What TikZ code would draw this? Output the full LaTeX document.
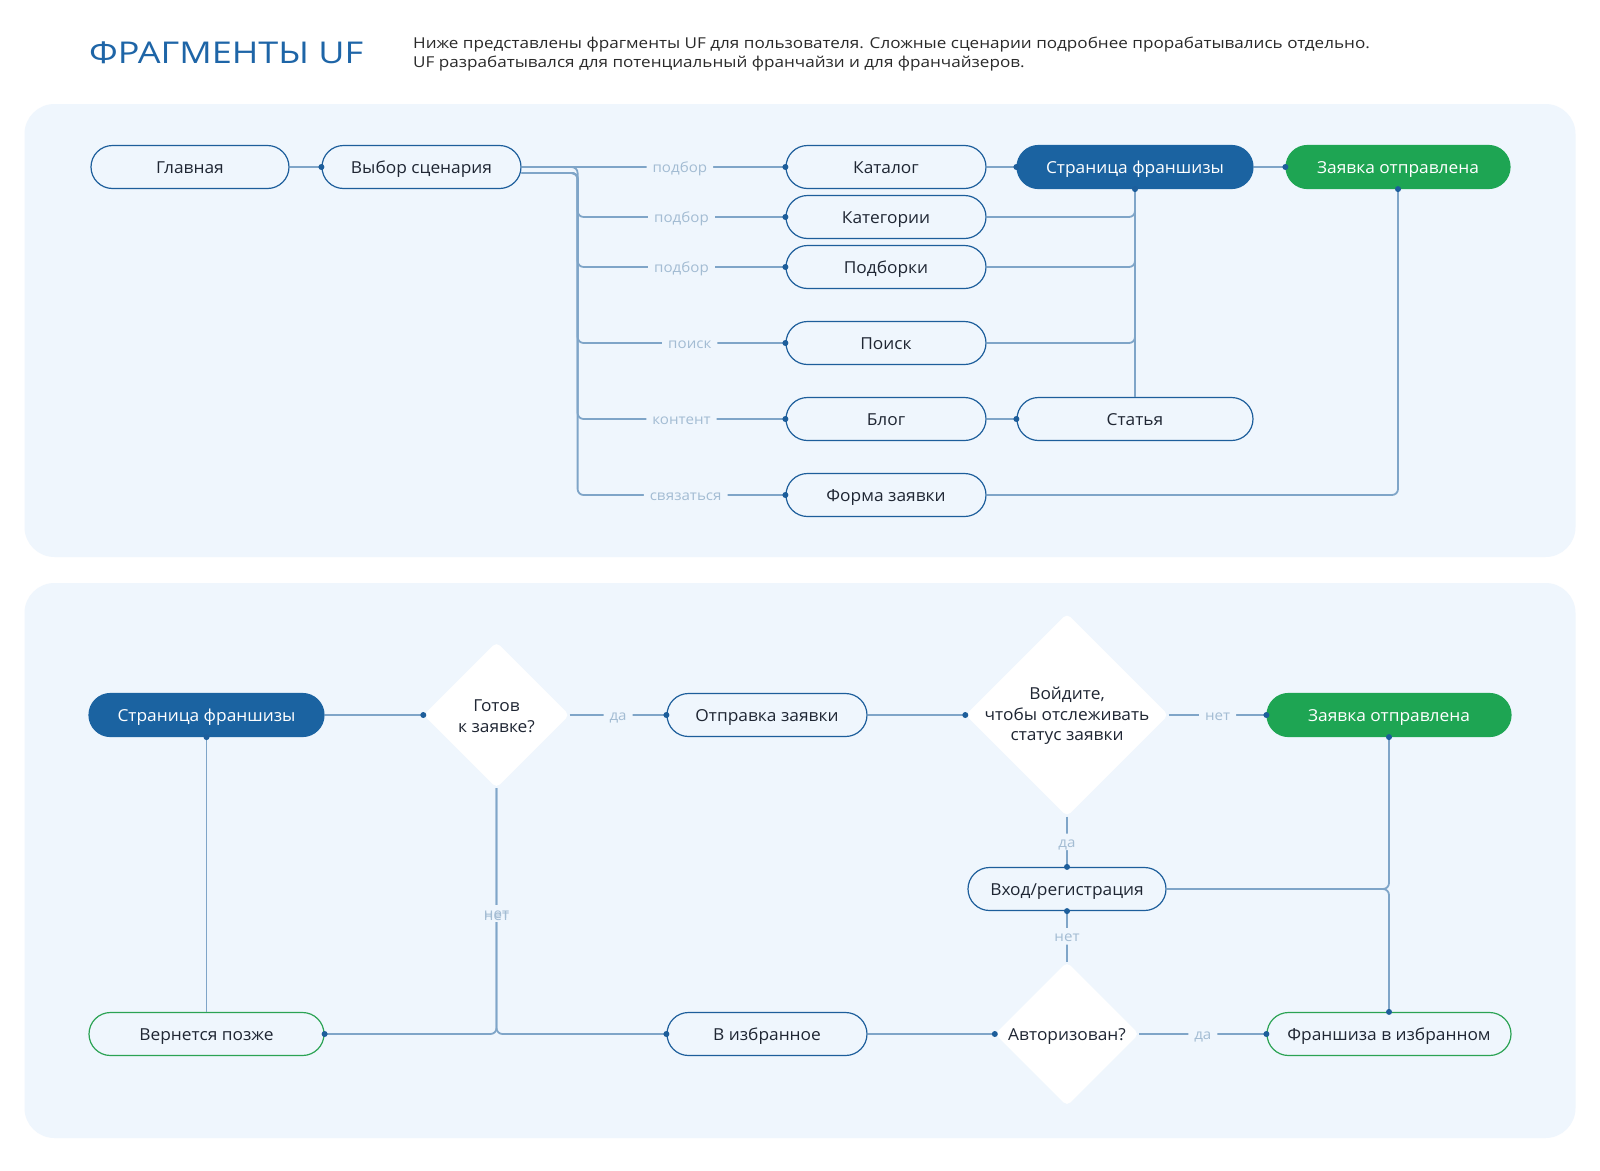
\documentclass[tikz,border=0pt]{standalone}
\usepackage{fontspec}
\setmainfont{Open Sans}
\newfontfamily\titlefam[FakeStretch=1.2]{Open Sans}
\newfontfamily\descfam[FakeStretch=1.14]{Open Sans}
\newfontfamily\nodefam[FakeStretch=1.05]{Open Sans}
\newfontfamily\lblfam[FakeStretch=1.08]{Open Sans}
\usetikzlibrary{shapes.geometric}
\definecolor{panelbg}{HTML}{EFF6FD}
\definecolor{nodeborder}{HTML}{1D5E9B}
\definecolor{linecol}{HTML}{7FA5C8}
\definecolor{dotcol}{HTML}{1D5E9B}
\definecolor{bluefill}{HTML}{1B63A1}
\definecolor{greenfill}{HTML}{1EA553}
\definecolor{greenborder}{HTML}{2BA354}
\definecolor{labelcol}{HTML}{A3BCD3}
\definecolor{textcol}{HTML}{1F2633}
\definecolor{titlecol}{HTML}{1E65A7}
\definecolor{desccol}{HTML}{2A2A2A}
\newcommand\ndfont{\nodefam\fontsize{16.5}{20.5}\selectfont}
\newcommand\lbfont{\lblfam\fontsize{14}{16}\selectfont}
\tikzset{
 pill/.style={draw=nodeborder, line width=1.2pt, fill=panelbg, rounded corners=21.5pt, minimum height=43pt, inner sep=0pt, text height=12pt, text depth=0pt, text=textcol, font=\ndfont},
 pillblue/.style={pill, fill=bluefill, draw=bluefill, text=white},
 pillgreen/.style={pill, fill=greenfill, draw=greenfill, text=white},
 pillgo/.style={pill, draw=greenborder},
 conn/.style={draw=linecol, line width=1.8pt, rounded corners=6pt},
 lbl/.style={fill=panelbg, text=labelcol, font=\lbfont, inner xsep=6pt, inner ysep=1.5pt, text height=12pt, text depth=1.5pt},
 jdot/.style={circle, fill=dotcol, inner sep=0pt, minimum size=6pt},
 dia/.style={diamond, fill=white, rounded corners=5pt, inner sep=0pt},
 dtext/.style={align=center, text=textcol, font=\ndfont, inner sep=0pt},
}
\begin{document}
\begin{tikzpicture}[x=1pt,y=-1pt]
\useasboundingbox (0,0) rectangle (1600,1170);
\fill[white] (0,0) rectangle (1600,1170);
\fill[panelbg, rounded corners=30pt] (24.5,104) rectangle (1575.5,557);
\fill[panelbg, rounded corners=30pt] (24.5,583) rectangle (1575.5,1138);

% header
\node[anchor=base west, inner sep=0pt, text=titlecol, font=\titlefam\fontsize{30}{36}\selectfont] (title) at (89,63) {ФРАГМЕНТЫ UF};
\node[anchor=base west, inner sep=0pt, text=desccol, font=\descfam\fontsize{15}{18}\selectfont] (desc1) at (413,48) {Ниже представлены фрагменты UF для пользователя. Сложные сценарии подробнее прорабатывались отдельно.};
\node[anchor=base west, inner sep=0pt, text=desccol, font=\descfam\fontsize{15}{18}\selectfont] (desc2) at (413,67) {UF разрабатывался для потенциальный франчайзи и для франчайзеров.};

% ---------- top section nodes
\node[pill, minimum width=198pt] (glav) at (190,167) {Главная};
\node[pill, minimum width=199pt] (vyb) at (421.5,167) {Выбор сценария};
\node[pill, minimum width=200pt] (kat) at (886,167) {Каталог};
\node[pill, minimum width=200pt] (kateg) at (886,217) {Категории};
\node[pill, minimum width=200pt] (podb) at (886,267) {Подборки};
\node[pill, minimum width=200pt] (poisk) at (886,343) {Поиск};
\node[pill, minimum width=200pt] (blog) at (886,419) {Блог};
\node[pill, minimum width=200pt] (forma) at (886,495) {Форма заявки};
\node[pillblue, minimum width=236pt] (str) at (1135,167) {Страница франшизы};
\node[pillgreen, minimum width=224pt] (zay) at (1398,167) {Заявка отправлена};
\node[pill, minimum width=236pt] (stat) at (1135,419) {Статья};

% top connectors
\draw[conn] (glav.east) -- (vyb.west);
\draw[conn] (vyb.east) -- node[lbl, pos=0.6] {подбор} (kat.west);
\draw[conn] (vyb.east) -- ++(56,0) |- node[lbl, pos=0.75] {подбор} (kateg.west);
\draw[conn] ([yshift=-6pt]vyb.east) -- ++(56,0) |- node[lbl, pos=0.75] {подбор} (podb.west);
\draw[conn] ([yshift=-6pt]vyb.east) -- ++(56,0) |- node[lbl, pos=0.77] {поиск} (poisk.west);
\draw[conn] ([yshift=-6pt]vyb.east) -- ++(56,0) |- node[lbl, pos=0.75] {контент} (blog.west);
\draw[conn] ([yshift=-6pt]vyb.east) -- ++(56,0) |- node[lbl, pos=0.76] {связаться} (forma.west);
\draw[conn] (kat.east) -- (str.west);
\draw[conn] (str.east) -- (zay.west);
\draw[conn] (str.south) -- (stat.north);
\draw[conn] (kateg.east) -| (str.south);
\draw[conn] (podb.east) -| (str.south);
\draw[conn] (poisk.east) -| (str.south);
\draw[conn] (blog.east) -- (stat.west);
\draw[conn] (forma.east) -| (zay.south);

\foreach \n in {vyb.west, kat.west, kateg.west, podb.west, poisk.west, blog.west, forma.west, str.west, str.south, zay.west, zay.south, stat.west}
  \node[jdot] at (\n) {};

% ---------- bottom section nodes
\node[pillblue, minimum width=235pt] (str2) at (206.5,715) {Страница франшизы};
\node[dia, minimum width=146pt, minimum height=146pt] (got) at (496.5,715) {};
\node[dtext] (gott) at (496.5,716) {Готов\\к заявке?};
\node[pill, minimum width=200pt] (otp) at (767,715) {Отправка заявки};
\node[dia, minimum width=203pt, minimum height=203pt] (big) at (1067,715) {};
\node[dtext] (bigt) at (1067,716) {Войдите,\\чтобы отслеживать\\статус заявки};
\node[pillgreen, minimum width=244pt] (zay2) at (1389,715) {Заявка отправлена};
\node[pill, minimum width=198pt] (vhod) at (1067,889) {Вход/регистрация};
\node[dia, minimum width=144pt, minimum height=144pt] (avt) at (1067,1034) {};
\node[dtext, text height=12pt, text depth=0pt] (avtt) at (1067,1034) {Авторизован?};
\node[pillgo, minimum width=235pt] (vern) at (206.5,1034) {Вернется позже};
\node[pill, minimum width=200pt] (vizb) at (767,1034) {В избранное};
\node[pillgo, minimum width=244pt] (fr) at (1389,1034) {Франшиза в избранном};

% bottom connectors
\draw[conn] (str2.east) -- (got.west);
\draw[conn] (str2.south) -- (vern.north);
\draw[conn] (got.east) -- node[lbl] {да} (otp.west);
\draw[conn] (otp.east) -- (big.west);
\draw[conn] (big.east) -- node[lbl] {нет} (zay2.west);
\draw[conn] (big.south) -- node[lbl] {да} (vhod.north);
\draw[conn] (avt.north) -- node[lbl] {нет} (vhod.south);
\draw[conn] (zay2.south) |- (vhod.east);
\draw[conn] (vhod.east) -| (fr.north);
\draw[conn] (got.south) |- (vern.east);
\draw[conn] (got.south) |- (vizb.west);
\path (got.south) |- node[lbl, pos=0.255] (net1) {нет} (vern.east);
\path (got.south) |- node[lbl, fill=none, pos=0.258] (net2) {нет} (vizb.west);
\draw[conn] (vizb.east) -- (avt.west);
\draw[conn] (avt.east) -- node[lbl] {да} (fr.west);

\foreach \n in {got.west, otp.west, big.west, zay2.west, zay2.south, vhod.north, vhod.south, str2.south, vern.east, vizb.west, avt.west, fr.west, fr.north}
  \node[jdot] at (\n) {};
\end{tikzpicture}
\end{document}
